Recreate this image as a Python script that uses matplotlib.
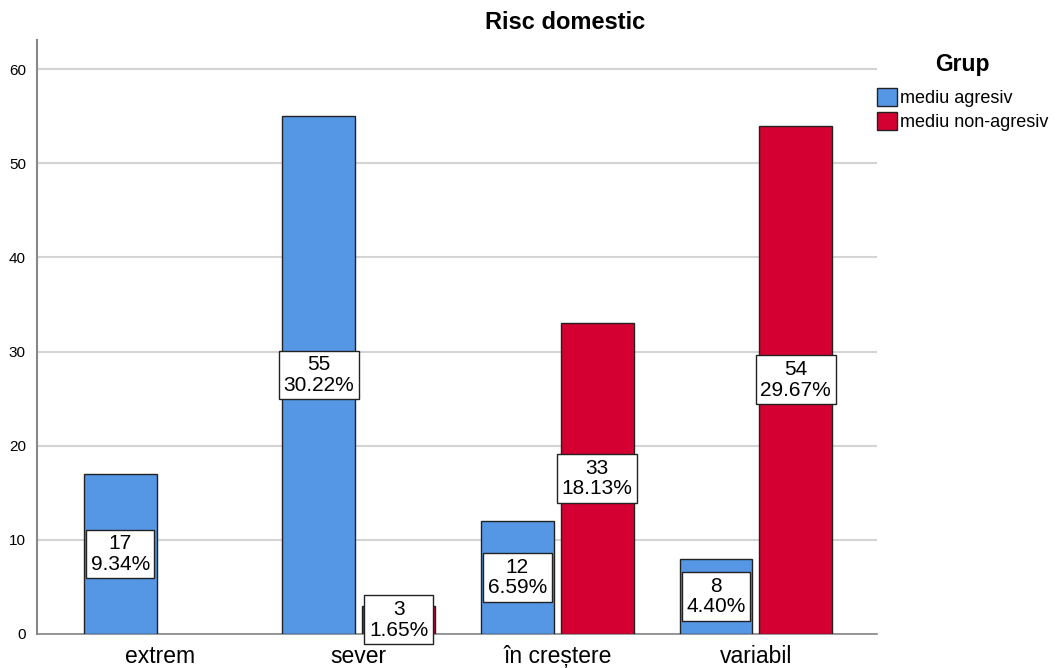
import numpy as np
import matplotlib.pyplot as plt
from matplotlib.patches import Patch

plt.rcParams["font.family"] = ["Liberation Sans", "DejaVu Sans"]

categories = ["extrem", "sever", "în creștere", "variabil"]
groups = ["mediu agresiv", "mediu non-agresiv"]
agresiv = [17, 55, 12, 8]
non_agresiv = [0, 3, 33, 54]
colors = ["#5597e5", "#d50032"]

total = sum(agresiv) + sum(non_agresiv)

fig = plt.figure(figsize=(10.58, 6.68), dpi=100)
ax = fig.add_axes([0.035, 0.051, 0.794, 0.889])

x = np.arange(len(categories))
width = 0.367
offset = 0.201

for vals, off, col in [(agresiv, -offset, colors[0]), (non_agresiv, offset, colors[1])]:
    pos = [p for p, v in zip(x + off, vals) if v > 0]
    hts = [v for v in vals if v > 0]
    bars = ax.bar(pos, hts, width, color=col, edgecolor="#222222", linewidth=1.0, zorder=3)
    for b, v in zip(bars, hts):
        ax.text(b.get_x() + b.get_width() / 2, v / 2, "%d\n%.2f%%" % (v, v / total * 100),
                ha="center", va="center", fontsize=15, linespacing=1.1, zorder=5,
                bbox=dict(boxstyle="square,pad=0.22", fc="white", ec="#222222", lw=1.0))

ax.set_xlim(-0.62, 3.61)
ax.set_ylim(0, 63.1)
ax.set_yticks(range(0, 70, 10))
ax.set_xticks(x)
ax.set_xticklabels(categories, fontsize=16.5)
ax.tick_params(axis="y", labelsize=11, length=0, pad=8)
ax.tick_params(axis="x", length=0, pad=8)
ax.yaxis.grid(True, color="#d4d4d4", linewidth=1.5, zorder=0)
for s in ["top", "right"]:
    ax.spines[s].set_visible(False)
ax.spines["left"].set_color("#888888")
ax.spines["left"].set_linewidth(1.5)
ax.spines["bottom"].set_color("#888888")
ax.spines["bottom"].set_linewidth(1.2)

fig.text(0.534, 0.967, "Risc domestic", fontsize=17, fontweight="bold", ha="center", va="center")

handles = [Patch(facecolor=c, edgecolor="#222222", label=g) for c, g in zip(colors, groups)]
leg = fig.legend(handles=handles, title="Grup", loc="upper left", bbox_to_anchor=(0.829, 0.921),
                 frameon=False, fontsize=13, handlelength=1.1, handleheight=1.1,
                 handletextpad=0.15, labelspacing=0.3, borderaxespad=0, borderpad=0)
leg.get_title().set_fontweight("bold")
leg.get_title().set_fontsize(16.5)
leg._legend_box.sep = 9

fig.savefig("out.png", dpi=100)
